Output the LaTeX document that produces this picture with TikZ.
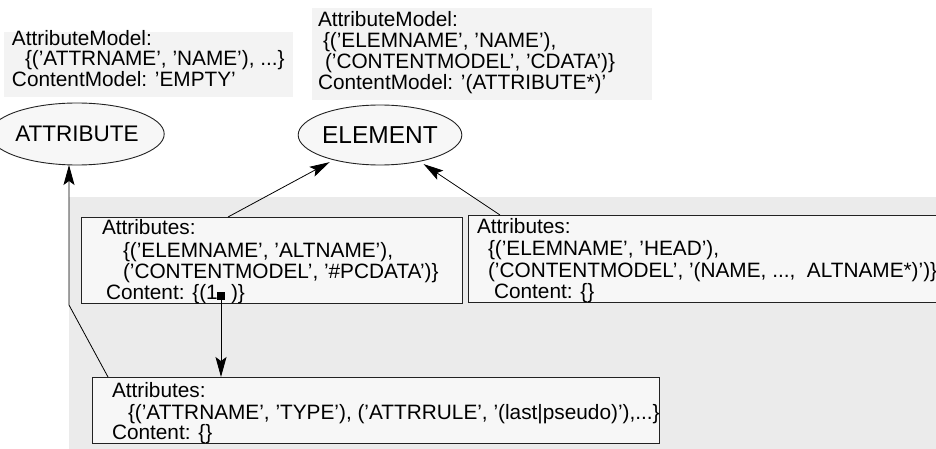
\documentclass[tikz,border=0pt]{standalone}
\usepackage{fontspec}
\setmainfont{Liberation Sans}
\usetikzlibrary{shapes.geometric,arrows.meta}
\definecolor{bggray}{HTML}{EBEBEB}
\definecolor{boxfill}{HTML}{F7F7F7}
\definecolor{notefill}{HTML}{F3F3F3}
\definecolor{edge}{HTML}{222222}
\tikzset{
  txt/.style={anchor=base west,inner sep=0pt,outer sep=0pt,font=\fontsize{20.8}{23}\selectfont},
  recbox/.style={draw=edge,line width=0.9pt,fill=boxfill,rectangle,inner sep=0pt,outer sep=0pt,anchor=north west},
  notebox/.style={fill=notefill,rectangle,inner sep=0pt,outer sep=0pt,anchor=north west},
  ell/.style={draw=edge,line width=0.9pt,fill=boxfill,ellipse,inner sep=0pt,outer sep=0pt},
  arr/.style={draw=black,line width=0.8pt,-{Stealth[length=20pt,width=11pt,inset=4pt]}}
}
\begin{document}
\begin{tikzpicture}[x=1pt,y=-1pt]
\useasboundingbox (0,0) rectangle (936,449);
% background panel
\fill[bggray] (69,197) rectangle (936,449);
% note boxes
\node[notebox,minimum width=289pt,minimum height=65pt] (noteA) at (4,32) {};
\node[notebox,minimum width=340pt,minimum height=92pt] (noteB) at (312,8) {};
\node[txt] (nA1) at (12,46) {AttributeModel:};
\node[txt] (nA2) at (25,66) {\{('ATTRNAME', 'NAME'), ...\}};
\node[txt] (nA3) at (12,87) {ContentModel: 'EMPTY'};
\node[txt] (nB1) at (318,27) {AttributeModel:};
\node[txt] (nB2) at (323,48) {\{('ELEMNAME', 'NAME'),};
\node[txt] (nB3) at (325,69) {('CONTENTMODEL', 'CDATA')\}};
\node[txt] (nB4) at (318,90) {ContentModel: '(ATTRIBUTE*)'};
% ellipses
\node[ell,minimum width=140pt,minimum height=62pt] (attr) at (77,134) {\fontsize{22.5}{25}\selectfont ATTRIBUTE};
\node[ell,minimum width=127pt,minimum height=60pt] (elem) at (380,135) {\fontsize{24.5}{27}\selectfont ELEMENT};
% boxes
\node[recbox,minimum width=381pt,minimum height=86pt] (b1) at (81,217) {};
\node[recbox,minimum width=480pt,minimum height=87pt] (b2) at (468,215) {};
\node[recbox,minimum width=567pt,minimum height=66pt] (b3) at (92,377) {};
\node[txt] (t11) at (102,234) {Attributes:};
\node[txt] (t12) at (123,257) {\{('ELEMNAME', 'ALTNAME'),};
\node[txt] (t13) at (123,278) {('CONTENTMODEL', '\#PCDATA')\}};
\node[txt] (t14) at (106,299) {Content: \{(1};
\node[fill=black,minimum size=8pt,inner sep=0pt,outer sep=0pt] (sq) at (221,296) {};
\node[txt] (t15) at (231,299) {)\}};
\node[txt] (t21) at (477,233) {Attributes:};
\node[txt] (t22) at (488,255) {\{('ELEMNAME', 'HEAD'),};
\node[txt] (t23) at (488,277) {('CONTENTMODEL', '(NAME, ...,\ \ ALTNAME*)')\}};
\node[txt] (t24) at (494,298) {Content: \{\}};
\node[txt] (t31) at (112,397) {Attributes:};
\node[txt] (t32) at (128,419) {\{('ATTRNAME', 'TYPE'), ('ATTRRULE', '(last|pseudo)'),...\}};
\node[txt] (t33) at (112,439) {Content: \{\}};
% connectors
\coordinate (s1) at ([xshift=147pt]b1.north west);
\coordinate (s2) at ([xshift=32pt]b2.north west);
\coordinate (s3) at ([xshift=16pt]b3.north west);
\coordinate (bend) at (69,305);
\draw[arr,shorten >=5pt] (s1) -- (elem);
\draw[arr,shorten >=5pt] (s2) -- (elem);
\draw[arr] (s3) -- (bend) -- (bend |- attr.south);
\draw[arr] (sq.center) -- (sq.center |- b3.north);
\end{tikzpicture}
\end{document}
